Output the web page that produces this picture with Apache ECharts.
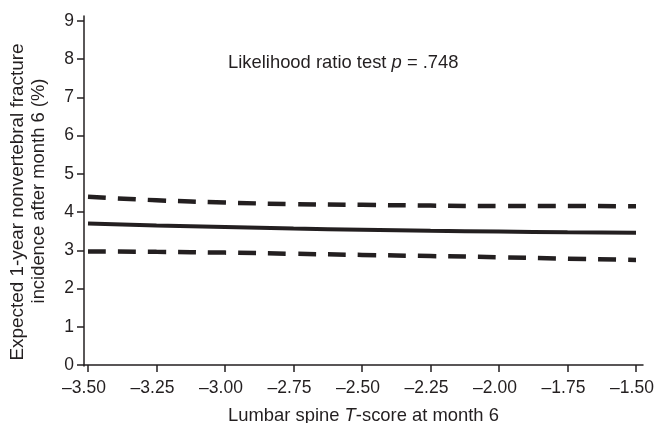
<!DOCTYPE html>
<html>
<head>
<meta charset="utf-8">
<script src="https://cdn.jsdelivr.net/npm/echarts@6/dist/echarts.min.js"></script>
<style>
html,body{margin:0;padding:0;background:#fff;}
#chart{width:656px;height:423px;}
</style>
</head>
<body>
<div id="chart"></div>
<script>
const tScores = [-3.5, -3.25, -3.0, -2.75, -2.5, -2.25, -2.0, -1.75, -1.5];
const estimate = [3.70, 3.65, 3.61, 3.57, 3.54, 3.51, 3.49, 3.47, 3.46];
const upperCI = [4.40, 4.31, 4.25, 4.21, 4.19, 4.17, 4.16, 4.16, 4.15];
const lowerCI = [2.97, 2.96, 2.94, 2.91, 2.88, 2.85, 2.82, 2.78, 2.75];
const xTicks = [-3.5, -3.25, -3.0, -2.75, -2.5, -2.25, -2.0, -1.75, -1.5];
const yTicks = [0, 1, 2, 3, 4, 5, 6, 7, 8, 9];

const ink = '#231f20';
const font = '"Liberation Sans", Arial, sans-serif';
const pair = (xs, ys) => xs.map((x, i) => [x, ys[i]]);

const chart = echarts.init(document.getElementById('chart'), null, {renderer: 'canvas'});
chart.setOption({
  animation: false,
  backgroundColor: '#fff',
  grid: {left: 84, right: 13, top: 16, bottom: 57, containLabel: false, outerBoundsMode: 'none'},
  xAxis: {
    type: 'value',
    min: -3.5146, max: -1.4745,
    splitLine: {show: false},
    axisLine: {lineStyle: {color: ink, width: 1.5}},
    axisTick: {customValues: xTicks, length: 7, lineStyle: {color: ink, width: 1.5}},
    axisLabel: {
      customValues: xTicks,
      color: ink, fontFamily: font, fontSize: 17.5, margin: 13, padding: [0, 8, 0, 0],
      formatter: v => (v < 0 ? '\u2013' : '') + Math.abs(v).toFixed(2)
    },
    name: 'Lumbar spine {i|T}-score at month 6',
    nameLocation: 'middle', nameGap: 41,
    nameTextStyle: {color: ink, fontFamily: font, fontSize: 18.4,
      rich: {i: {fontStyle: 'italic', fontFamily: font, fontSize: 18.4, color: ink}}}
  },
  yAxis: {
    type: 'value',
    min: -0.026, max: 9.13,
    splitLine: {show: false},
    axisLine: {lineStyle: {color: ink, width: 1.5}},
    axisTick: {customValues: yTicks, length: 7, lineStyle: {color: ink, width: 1.5}},
    axisLabel: {customValues: yTicks, color: ink, fontFamily: font, fontSize: 17.5, margin: 10,
      formatter: v => String(Math.round(v))}
  },
  graphic: [
    {type: 'text', x: 228, y: 63,
      style: {text: 'Likelihood ratio test {i|p} = .748', fill: ink, font: '18.4px ' + font,
        verticalAlign: 'middle',
        rich: {i: {fontStyle: 'italic', fontSize: 18.4, fontFamily: font, fill: ink}}}},
    {type: 'text', x: 18, y: 202, rotation: Math.PI / 2,
      style: {text: 'Expected 1-year nonvertebral fracture', fill: ink, font: '18.9px ' + font,
        align: 'center', verticalAlign: 'middle'}},
    {type: 'text', x: 39, y: 191, rotation: Math.PI / 2,
      style: {text: 'incidence after month 6 (%)', fill: ink, font: '18.4px ' + font,
        align: 'center', verticalAlign: 'middle'}}
  ],
  series: [
    {type: 'line', data: pair(tScores, upperCI), smooth: true, symbol: 'none',
      lineStyle: {color: ink, width: 4.5, type: [18, 12], cap: 'butt'}},
    {type: 'line', data: pair(tScores, estimate), smooth: true, symbol: 'none',
      lineStyle: {color: ink, width: 4, type: 'solid'}},
    {type: 'line', data: pair(tScores, lowerCI), smooth: true, symbol: 'none',
      lineStyle: {color: ink, width: 4.5, type: [18, 12], cap: 'butt'}}
  ]
});
</script>
</body>
</html>
